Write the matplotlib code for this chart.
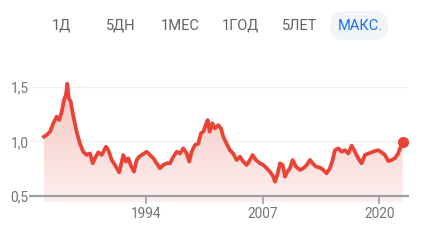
import matplotlib

matplotlib.use("Agg")
import matplotlib.pyplot as plt
import numpy as np
from matplotlib.colors import LinearSegmentedColormap
from matplotlib.patches import FancyBboxPatch

# ---- values (decimal year, rate) ----------------------------------------
YEARS = [1982.63, 1982.93, 1983.30, 1983.67, 1984.04, 1984.33, 1984.60, 1984.86,
         1985.08, 1985.23, 1985.38, 1985.61, 1985.88, 1986.27, 1986.64, 1987.00,
         1987.39, 1987.76, 1988.06, 1988.31, 1988.68, 1989.06, 1989.54, 1989.80,
         1990.18, 1990.54, 1991.02, 1991.47, 1991.77, 1992.03, 1992.29, 1992.66,
         1992.96, 1993.25, 1993.52, 1994.08, 1994.45, 1994.82, 1995.19, 1995.56,
         1995.93, 1996.31, 1996.68, 1997.05, 1997.43, 1997.79, 1998.16, 1998.54,
         1998.83, 1999.09, 1999.46, 1999.83, 2000.13, 2000.39, 2000.66, 2000.88,
         2001.10, 2001.39, 2001.69, 2002.06, 2002.36, 2002.62, 2002.99, 2003.36,
         2003.72, 2004.10, 2004.48, 2004.85, 2005.23, 2005.59, 2005.89, 2006.26,
         2006.71, 2007.08, 2007.46, 2007.82, 2008.19, 2008.38, 2008.64, 2008.94,
         2009.24, 2009.50, 2009.76, 2010.05, 2010.35, 2010.72, 2011.17, 2011.54,
         2011.92, 2012.28, 2012.58, 2012.95, 2013.40, 2013.77, 2014.14, 2014.51,
         2014.81, 2015.07, 2015.44, 2015.82, 2016.18, 2016.55, 2016.93, 2017.21,
         2017.66, 2018.04, 2018.41, 2018.78, 2019.16, 2019.53, 2019.90, 2020.27,
         2020.64, 2021.01, 2021.38, 2021.75, 2022.12, 2022.39, 2022.61]
RATE = [1.044, 1.06, 1.09, 1.167, 1.228, 1.197, 1.27, 1.38,
        1.43, 1.53, 1.40, 1.365, 1.24, 1.09, 0.98, 0.906,
        0.876, 0.89, 0.80, 0.846, 0.90, 0.876, 0.952, 0.92,
        0.83, 0.784, 0.717, 0.876, 0.815, 0.846, 0.784, 0.723,
        0.83, 0.86, 0.876, 0.906, 0.876, 0.846, 0.80, 0.754,
        0.784, 0.80, 0.80, 0.86, 0.906, 0.89, 0.937, 0.89,
        0.815, 0.906, 0.968, 0.98, 1.075, 1.09, 1.15, 1.197,
        1.09, 1.167, 1.12, 1.15, 1.12, 1.044, 0.98, 0.92,
        0.89, 0.83, 0.86, 0.815, 0.784, 0.83, 0.876, 0.83,
        0.80, 0.784, 0.754, 0.723, 0.677, 0.631, 0.693, 0.80,
        0.784, 0.677, 0.723, 0.754, 0.83, 0.769, 0.739, 0.754,
        0.784, 0.83, 0.80, 0.769, 0.76, 0.739, 0.708, 0.754,
        0.83, 0.92, 0.937, 0.906, 0.92, 0.89, 0.962, 0.92,
        0.846, 0.80, 0.876, 0.89, 0.90, 0.913, 0.92, 0.90,
        0.876, 0.82, 0.83, 0.846, 0.89, 0.952, 0.998]

TABS = ["1Д", "5ДН", "1МЕС", "1ГОД", "5ЛЕТ", "МАКС."]
XTICKS = [1994, 2007, 2020]
YTICKS = [0.5, 1.0, 1.5]
YTICK_LABELS = ["0,5", "1,0", "1,5"]

RED, GRAY_TXT, AXIS_GRAY, BLUE = "#ea4335", "#70757a", "#9aa0a6", "#1a73e8"
W, H = 431, 240
plt.rcParams["font.family"] = ["Roboto", "DejaVu Sans"]

fig = plt.figure(figsize=(W / 100, H / 100), dpi=100)

# ---- range tabs ----
tab_x = [61.5, 121, 180, 240, 300, 360]
pill = FancyBboxPatch((330, H - 40), 58, 29, boxstyle="round,pad=0,rounding_size=14",
                      transform=None, fc="#f1f4f9", ec="none")
fig.patches.append(pill)
for name, tx in zip(TABS, tab_x):
    fig.text(tx / W, 1 - 25.5 / H, name, ha="center", va="center", fontsize=10.5,
             color=BLUE if name == "МАКС." else "#5f6368")

# ---- chart ----
y_lo, y_hi = 0.44, 1.6
x_lo, x_hi = 1981.07, 2023.21
ax = fig.add_axes([30 / W, (H - 202.5) / H, 378 / W, (202.5 - 76.1) / H])

poly = ax.fill_between(YEARS, RATE, y_lo, color="none", lw=0)
cmap = LinearSegmentedColormap.from_list(
    "fade", [(0.992, 0.94, 0.935), (0.96, 0.76, 0.74)])
grad = np.linspace(0, 1, 256).reshape(-1, 1)
img = ax.imshow(grad, extent=[x_lo, x_hi, y_lo, y_hi], origin="lower",
                aspect="auto", cmap=cmap, zorder=1)
img.set_clip_path(poly.get_paths()[0], transform=ax.transData)

ax.plot(YEARS, RATE, color=RED, lw=2.7, zorder=3, solid_joinstyle="round")
ax.plot(YEARS[-1], RATE[-1], "o", color=RED, ms=7, zorder=4)

ax.set_xlim(x_lo, x_hi)
ax.set_ylim(y_lo, y_hi)
for s in ("top", "right", "left"):
    ax.spines[s].set_visible(False)
ax.spines["bottom"].set_position(("data", 0.5))
ax.spines["bottom"].set_color(AXIS_GRAY)
ax.spines["bottom"].set_linewidth(1.6)
ax.spines["bottom"].set_zorder(5)

ax.set_xticks(XTICKS)
ax.set_xticklabels([str(t) for t in XTICKS])
ax.tick_params(axis="x", length=5.5, width=1.2, color=AXIS_GRAY, pad=2.5,
               labelsize=9.8, labelcolor=GRAY_TXT)
ax.set_yticks(YTICKS)
ax.set_yticklabels(YTICK_LABELS)
ax.tick_params(axis="y", length=0, pad=1, labelsize=9.8, labelcolor=GRAY_TXT)
for yv in YTICKS[1:]:
    ax.axhline(yv, color="#f1f1f1", lw=1, zorder=0)

fig.savefig("out.png", dpi=100, facecolor="white")
